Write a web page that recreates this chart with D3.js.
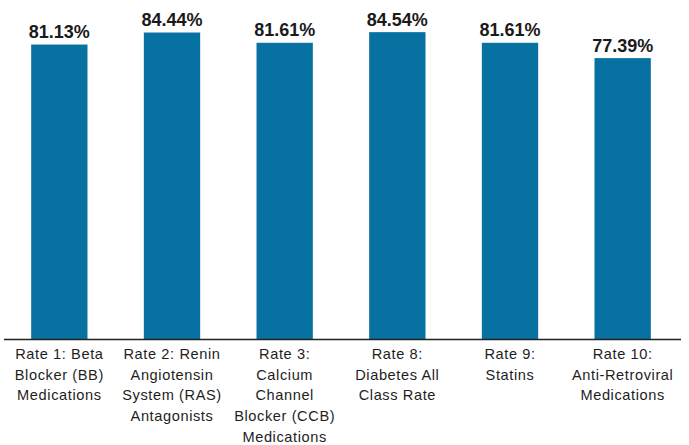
<!DOCTYPE html>
<html>
<head>
<meta charset="utf-8">
<script src="https://cdn.jsdelivr.net/npm/d3@7"></script>
<style>
  body { margin: 0; background: #fff; }
  svg { display: block; }
</style>
</head>
<body>
<div id="chart"></div>
<script>
// data
const categories = [
  ['Rate 1: Beta', 'Blocker (BB)', 'Medications'],
  ['Rate 2: Renin', 'Angiotensin', 'System (RAS)', 'Antagonists'],
  ['Rate 3:', 'Calcium', 'Channel', 'Blocker (CCB)', 'Medications'],
  ['Rate 8:', 'Diabetes All', 'Class Rate'],
  ['Rate 9:', 'Statins'],
  ['Rate 10:', 'Anti-Retroviral', 'Medications']
];
const values = [81.13, 84.44, 81.61, 84.54, 81.61, 77.39];
const valueLabels = ['81.13%', '84.44%', '81.61%', '84.54%', '81.61%', '77.39%'];

const w = 689;
const h = 445;
const baseY = 339;

const svg = d3.select('#chart')
  .append('svg')
  .attr('width', w)
  .attr('height', h);

const idx = d3.range(values.length);

const xScale = d3.scaleBand()
  .domain(idx)
  .range([3, 679])
  .paddingInner(0.5)
  .paddingOuter(0.25);

const yScale = d3.scaleLinear()
  .domain([0, 93.4])
  .range([baseY, 0]);

// bars
svg.selectAll('rect.bar')
  .data(idx)
  .enter()
  .append('rect')
  .attr('class', 'bar')
  .attr('x', i => xScale(i))
  .attr('y', i => yScale(values[i]))
  .attr('width', xScale.bandwidth())
  .attr('height', i => baseY - yScale(values[i]))
  .attr('fill', '#0772a1');

// value labels
svg.selectAll('text.val')
  .data(idx)
  .enter()
  .append('text')
  .attr('class', 'val')
  .attr('x', i => xScale(i) + xScale.bandwidth() / 2)
  .attr('y', i => yScale(values[i]) - 6.5)
  .attr('text-anchor', 'middle')
  .attr('font-family', 'Liberation Sans, Arial, sans-serif')
  .attr('font-weight', 'bold')
  .attr('font-size', 18)
  .attr('fill', '#1a1a1a')
  .text(i => valueLabels[i]);

// x axis, drawn with the band scale
const xAxis = d3.axisBottom(xScale).tickSize(0).tickFormat('');
const gx = svg.append('g')
  .attr('transform', 'translate(0,' + baseY + ')')
  .call(xAxis);
gx.select('.domain')
  .attr('d', 'M4,0.5H681')
  .attr('stroke', '#222')
  .attr('stroke-width', 1.6);

// category labels
gx.selectAll('.tick').each(function (i) {
  const t = d3.select(this).append('text')
    .attr('text-anchor', 'middle')
    .attr('font-family', 'Liberation Sans, Arial, sans-serif')
    .attr('font-size', 14.6)
    .attr('letter-spacing', 0.6)
    .attr('fill', '#1e1e1e');
  categories[i].forEach((line, k) => {
    t.append('tspan')
      .attr('x', 0)
      .attr('y', 20 + k * 20.7)
      .text(line);
  });
});
</script>
</body>
</html>
